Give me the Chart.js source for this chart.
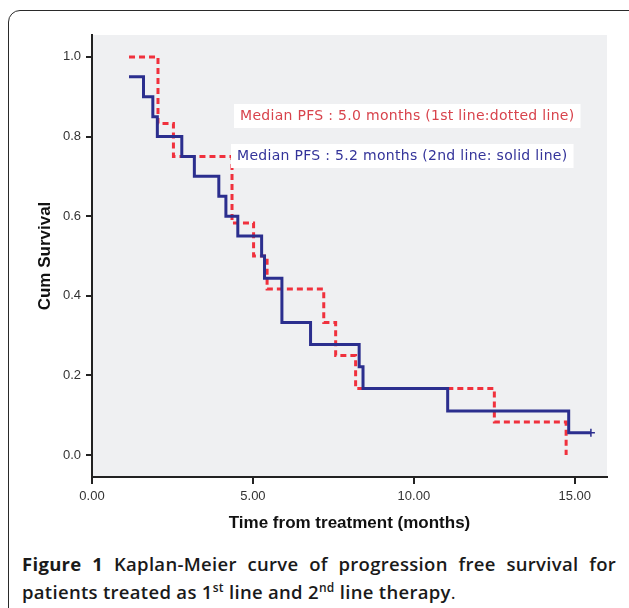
<!DOCTYPE html>
<html>
<head>
<meta charset="utf-8">
<script src="https://cdn.jsdelivr.net/npm/chart.js@4.4.0/dist/chart.umd.min.js"></script>
<style>
  body { margin: 0; background: #fff; width: 629px; height: 608px; overflow: hidden; position: relative; }
  .frame {
    position: absolute; left: 8px; top: 10px; width: 650px; height: 640px;
    border: 1.5px solid #2a2a2a; border-radius: 12px; box-sizing: border-box;
  }
  .plot { position: absolute; left: 0; top: 0; width: 629px; height: 540px; }
  .caption {
    position: absolute; left: 22px; top: 550px; width: 594px;
    font-family: "Open Sans", "Noto Sans", sans-serif; font-size: 18.5px; font-weight: 600;
    letter-spacing: 0.3px; line-height: 28px; color: #1a1a1a;
  }
  .caption .l1 { text-align: justify; text-align-last: justify; white-space: nowrap; }
  .caption b { font-weight: 700; }
  .caption sup { font-size: 12px; line-height: 0; }
  .caption .end { font-weight: 400; }
</style>
</head>
<body>
<div class="frame"></div>
<div class="plot"><canvas id="kmChart"></canvas></div>
<div class="caption">
  <div class="l1"><b>Figure 1</b> Kaplan-Meier curve of progression free survival for</div>
  <div>patients treated as 1<sup>st</sup> line and 2<sup>nd</sup> line therapy<span class="end">.</span></div>
</div>

<script>
// 2nd line (solid) - event times in months and survival after each step
const secondLineTimes = [1.15, 1.6, 1.89, 2.03, 2.79, 3.18, 3.94, 4.16, 4.53, 5.27, 5.36, 5.9, 6.79, 8.3, 8.42, 11.05, 14.81, 15.5];
const secondLineSurv = [0.95, 0.90, 0.85, 0.80, 0.75, 0.70, 0.65, 0.60, 0.55, 0.50, 0.444, 0.333, 0.278, 0.222, 0.167, 0.111, 0.056, 0.056];

// 1st line (dotted)
const firstLineTimes = [1.15, 2.05, 2.53, 4.35, 5.02, 5.44, 7.2, 7.57, 8.19, 12.5, 14.73];
const firstLineSurv = [1.0, 0.833, 0.75, 0.583, 0.5, 0.417, 0.333, 0.25, 0.167, 0.083, 0.0];

const xTicks = [0, 5, 10, 15];
const yTicks = [0, 0.2, 0.4, 0.6, 0.8, 1.0];

const medianNotes = [
  { text: "Median PFS : 5.0 months (1st line:dotted line)", color: "#d8434c" },
  { text: "Median PFS : 5.2 months (2nd line: solid line)", color: "#34349a" },
];

const BLUE = "#2b2e8e";
const RED = "#f0313d";

function toPoints(times, surv) {
  return times.map((t, i) => ({ x: t, y: surv[i] }));
}

const plotBackground = {
  id: "plotBackground",
  beforeDraw(chart) {
    const { ctx, chartArea: a } = chart;
    ctx.save();
    ctx.fillStyle = "#eff0f2";
    ctx.fillRect(a.left, a.top, a.right - a.left, a.bottom - a.top);
    ctx.restore();
  },
};

const noteLabels = {
  id: "noteLabels",
  afterDatasetsDraw(chart) {
    const { ctx, chartArea: a } = chart;
    ctx.save();
    ctx.font = '14px "DejaVu Sans", sans-serif';
    ctx.letterSpacing = "0.3px";
    ctx.textBaseline = "middle";
    const rows = [
      { x: a.left + 148, y: 116 },
      { x: a.left + 145, y: 156 },
    ];
    medianNotes.forEach((n, i) => {
      const w = ctx.measureText(n.text).width;
      ctx.fillStyle = "#ffffff";
      ctx.fillRect(rows[i].x - 6, rows[i].y - 12, w + 12, 24);
      ctx.fillStyle = n.color;
      ctx.fillText(n.text, rows[i].x, rows[i].y);
    });
    ctx.restore();
  },
};

new Chart(document.getElementById("kmChart"), {
  type: "line",
  data: {
    datasets: [
      {
        label: "2nd line",
        data: toPoints(secondLineTimes, secondLineSurv),
        borderColor: BLUE,
        backgroundColor: BLUE,
        borderWidth: 3,
        stepped: "before",
        fill: false,
        pointStyle: "cross",
        pointRadius: (c) => (c.dataIndex === secondLineTimes.length - 1 ? 4 : 0),
        pointBorderWidth: 1.5,
        pointBorderColor: BLUE,
      },
      {
        label: "1st line",
        data: toPoints(firstLineTimes, firstLineSurv),
        borderColor: RED,
        borderWidth: 3,
        borderDash: [6, 4],
        stepped: "before",
        fill: false,
        pointRadius: 0,
      },
    ],
  },
  options: {
    responsive: true,
    maintainAspectRatio: false,
    animation: false,
    layout: { padding: { top: 35, right: 22, left: 0, bottom: 0 } },
    plugins: { legend: { display: false }, tooltip: { enabled: false } },
    scales: {
      x: {
        type: "linear",
        min: 0,
        max: 16,
        afterFit(scale) { scale.height = 63; },
        afterBuildTicks(scale) { scale.ticks = xTicks.map((v) => ({ value: v })); },
        ticks: {
          callback: (v) => v.toFixed(2),
          color: "#333",
          font: { family: '"Liberation Sans", Arial, sans-serif', size: 13 },
          padding: 5,
          maxRotation: 0,
        },
        grid: { drawOnChartArea: false, drawTicks: true, tickLength: 7, color: "#222", lineWidth: 2 },
        border: { display: true, color: "#222", width: 2 },
        title: {
          display: true,
          text: "Time from treatment (months)",
          color: "#111",
          font: { family: '"Liberation Sans", Arial, sans-serif', size: 17, weight: "bold" },
          padding: { top: 0, bottom: 6 },
        },
      },
      y: {
        min: -0.055,
        max: 1.055,
        afterFit(scale) { scale.width = 92; },
        afterBuildTicks(scale) { scale.ticks = yTicks.map((v) => ({ value: v })); },
        ticks: {
          callback: (v) => v.toFixed(1),
          color: "#333",
          font: { family: '"Liberation Sans", Arial, sans-serif', size: 13 },
          padding: 5,
        },
        grid: { drawOnChartArea: false, drawTicks: true, tickLength: 6, color: "#222", lineWidth: 2 },
        border: { display: true, color: "#222", width: 2 },
        title: {
          display: true,
          text: "Cum Survival",
          color: "#111",
          font: { family: '"Liberation Sans", Arial, sans-serif', size: 17, weight: "bold" },
          padding: { top: 35, bottom: 0 },
        },
      },
    },
  },
  plugins: [plotBackground, noteLabels],
});
</script>
</body>
</html>
